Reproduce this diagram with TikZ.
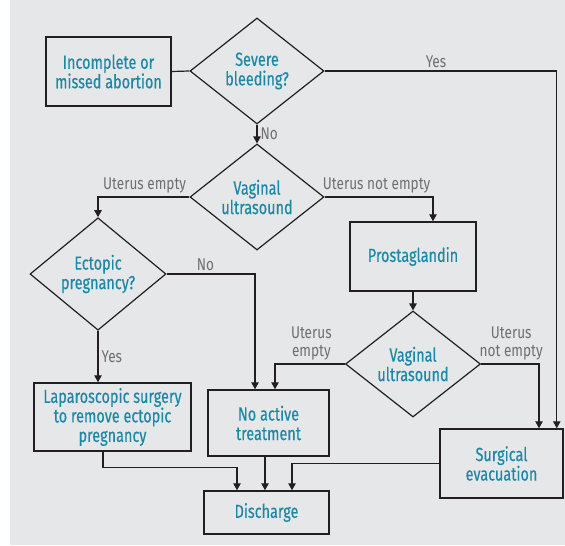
\documentclass[tikz,border=0pt]{standalone}
\usepackage{fontspec}
\setmainfont{Fira Sans}[FakeStretch=0.8]
\newfontfamily\stepfont{Fira Sans}[FakeStretch=0.76, FakeBold=0.35]
\usetikzlibrary{positioning, arrows.meta, calc, shapes.geometric}

\definecolor{panelgray}{HTML}{E6E7E8}
\definecolor{stepteal}{HTML}{1A88A6}
\definecolor{labelgray}{HTML}{6E6F71}
\definecolor{inkdark}{HTML}{231F20}

\begin{document}
\begin{tikzpicture}[
		x=1pt, y=-1pt,
		>={Triangle[length=7pt, width=7.5pt]},
		box/.style={draw=inkdark, line width=1.5pt, inner sep=2pt, align=center, text=stepteal, font=\stepfont\fontsize{19}{19.5}\selectfont},
		decision/.style={draw=inkdark, line width=1.2pt, diamond, inner sep=0pt, align=center, text=stepteal, font=\stepfont\fontsize{19}{19.5}\selectfont},
		link/.style={draw=inkdark, line width=1.2pt},
		message/.style={link, ->},
		answer/.style={text=labelgray, font=\fontsize{17}{18.5}\selectfont, align=center, inner sep=3pt}
		]
		
		% ==========================================
		% BACKGROUND
		% ==========================================
		\useasboundingbox (0,0) rectangle (565,546);
		\fill[panelgray] (10,0) rectangle (565,545);
		
		% ==========================================
		% UPPER PART
		% ==========================================
		
		\node[box, minimum width=125pt, minimum height=69pt] (Incomplete) at (108.5,71.5) {Incomplete or\\missed abortion};
		
		\node[decision, minimum width=134pt, minimum height=106pt] (Bleeding) at (257,71) {Severe\\bleeding?};
		
		\node[decision, minimum width=134pt, minimum height=106pt] (UltrasoundA) at (257,197) {Vaginal\\ultrasound};
		
		\node[decision, minimum width=136pt, minimum height=105pt] (Ectopic) at (98,274) {Ectopic\\pregnancy?};
		
		\node[box, minimum width=126pt, minimum height=69pt] (Prosta) at (413,256.5) {Prostaglandin};
		
		\node[decision, minimum width=135pt, minimum height=106pt] (UltrasoundB) at (413,364) {Vaginal\\ultrasound};
		
		% ==========================================
		% LOWER PART
		% ==========================================
		
		\node[box, minimum width=157pt, minimum height=68pt] (Laparo) at (112.5,417) {Laparoscopic surgery\\to remove ectopic\\pregnancy};
		
		\node[box, minimum width=121pt, minimum height=66pt] (NoActive) at (268.5,423) {No active\\treatment};
		
		\node[box, minimum width=123pt, minimum height=69pt] (Surgical) at (501.5,463.5) {Surgical\\evacuation};
		
		\node[box, minimum width=125pt, minimum height=43pt] (Discharge) at (266.5,512.5) {Discharge};
		
		% ==========================================
		% CONNECTORS
		% ==========================================
		
		\draw[link] (Incomplete.east) -- (Bleeding.west);
		\draw[message] (Bleeding.east) -| node[answer, above, pos=0.24] {Yes} ([xshift=-7pt]Surgical.north east);
		\draw[message] (Bleeding.south) -- node[answer, right] {No} (UltrasoundA.north);
		
		\draw[message] (UltrasoundA.west) -| node[answer, above, pos=0.245] {Uterus empty} (Ectopic.north);
		\draw[message] (UltrasoundA.east) -| node[answer, above, pos=0.24] {Uterus not empty} ([xshift=20pt]Prosta.north);
		
		\draw[message] (Ectopic.east) -| node[answer, above, pos=0.22] {No} ([xshift=-13.5pt]NoActive.north);
		\draw[message] (Ectopic.south) -- node[answer, right] {Yes} (Ectopic.south |- Laparo.north);
		
		\draw[message] (Prosta.south) -- (UltrasoundB.north);
		\draw[message] (UltrasoundB.west) -| node[answer, above, pos=0.24] {Uterus\\empty} ([xshift=6.5pt]NoActive.north);
		\draw[message] (UltrasoundB.east) -| node[answer, above, pos=0.26] {Uterus\\not empty} ([xshift=37.5pt]Surgical.north);
		
		% Into discharge
		\draw[message] ([xshift=-9.5pt]Laparo.south) -- ++(0,16) -| ([xshift=-29.5pt]Discharge.north);
		\draw[message] ([xshift=-3.5pt]NoActive.south) -- ([xshift=-3.5pt]NoActive.south |- Discharge.north);
		\draw[message] (Surgical.west) -| ([xshift=25.5pt]Discharge.north);
		
	\end{tikzpicture}
\end{document}
